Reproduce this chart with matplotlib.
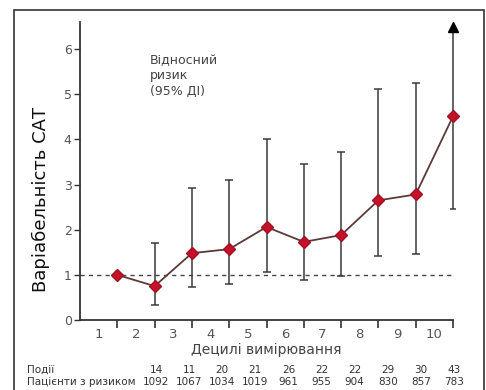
import numpy as np
import matplotlib.pyplot as plt
from matplotlib.patches import Rectangle

# deciles, relative risk and 95% CI
deciles = [1, 2, 3, 4, 5, 6, 7, 8, 9, 10]
rr = [1.00, 0.75, 1.48, 1.57, 2.06, 1.73, 1.88, 2.65, 2.78, 4.51]
ci_low = [np.nan, 0.33, 0.73, 0.80, 1.06, 0.88, 0.97, 1.42, 1.46, 2.46]
ci_high = [np.nan, 1.70, 2.92, 3.10, 4.00, 3.45, 3.72, 5.11, 5.25, 6.48]
events = [14, 11, 20, 21, 26, 22, 22, 29, 30, 43]
at_risk = [1092, 1067, 1034, 1019, 961, 955, 904, 830, 857, 783]

W, H = 486, 390
fig = plt.figure(figsize=(W / 100, H / 100), dpi=100)
ax = fig.add_axes([80 / W, 1 - 320 / H, 373 / W, 298 / H])

# outer frame
fig.patches.append(Rectangle((13.5 / W, -0.05), 470 / W, 1.05 - 10.5 / H,
                             transform=fig.transFigure, fill=False,
                             edgecolor='#333333', lw=1.2))

x = np.array(deciles) + 0.5
rr = np.array(rr)
lo = np.array(ci_low)
hi = np.array(ci_high)

# error bars (last one is open-ended, drawn with an arrow)
eb = ax.errorbar(x[:-1], rr[:-1], yerr=[rr[:-1] - lo[:-1], hi[:-1] - rr[:-1]],
                 fmt='none', ecolor='#3a3a3a', elinewidth=1.1, capsize=3, capthick=1.1, zorder=2)
ax.vlines(x[-1], lo[-1], hi[-1], color='#3a3a3a', lw=1.1, zorder=2, clip_on=False)
ax.hlines(lo[-1], x[-1] - 0.08, x[-1] + 0.08, color='#3a3a3a', lw=1.1, zorder=2, clip_on=False)
ax.plot(x[-1], hi[-1], marker='^', color='black', ms=7, zorder=3, clip_on=False)

ax.axhline(1, color='#444444', lw=1, ls=(0, (3, 3)), zorder=1)
ax.plot(x, rr, color='#5a3a3a', lw=1.3, zorder=3, clip_on=False)
ax.plot(x, rr, ls='none', marker='D', ms=6.5, color='#c4122b', mec='#a50f22', zorder=4, clip_on=False)

ax.set_xlim(0.5, 10.5)
ax.set_ylim(0, 6.6)
for s in ['top', 'right']:
    ax.spines[s].set_visible(False)
for s in ['left', 'bottom']:
    ax.spines[s].set_color('#333333')
    ax.spines[s].set_linewidth(1.3)

ax.set_yticks([0, 1, 2, 3, 4, 5, 6])
ax.tick_params(axis='y', length=4, width=1, color='#333333', labelsize=9, labelcolor='#555555', pad=2)
ax.set_xticks(x)
ax.set_xticklabels([])
ax.tick_params(axis='x', which='major', length=6, width=1.2, color='#333333')
ax.set_xticks(deciles, minor=True)
ax.set_xticklabels([str(d) for d in deciles], minor=True)
ax.tick_params(axis='x', which='minor', length=0, labelsize=9.5, labelcolor='#555555', pad=6)

ax.set_xlabel('Децилі вимірювання', fontsize=10, color='#444444', labelpad=1)
fig.text(41 / W, 1 - 199 / H, 'Варіабельність САТ', rotation=90, ha='center', va='center',
         fontsize=13, color='#111111', family='DejaVu Sans')

ax.text(150 / W, 1 - 54 / H, 'Відносний\nризик\n(95% ДІ)', transform=fig.transFigure,
        ha='left', va='top', fontsize=9, color='#444444', linespacing=1.25)

# table under the chart
col_x = np.linspace(156, 454, len(events))
fig.text(27 / W, 1 - 370 / H, 'Події', fontsize=7.5, color='#333333', va='center')
fig.text(27 / W, 1 - 382 / H, 'Пацієнти з ризиком', fontsize=7.5, color='#333333', va='center')
for cx, e, n in zip(col_x, events, at_risk):
    fig.text(cx / W, 1 - 370 / H, str(e), fontsize=7.5, color='#333333', ha='center', va='center')
    fig.text(cx / W, 1 - 382 / H, str(n), fontsize=7.5, color='#333333', ha='center', va='center')

fig.savefig('out.png', dpi=100)
